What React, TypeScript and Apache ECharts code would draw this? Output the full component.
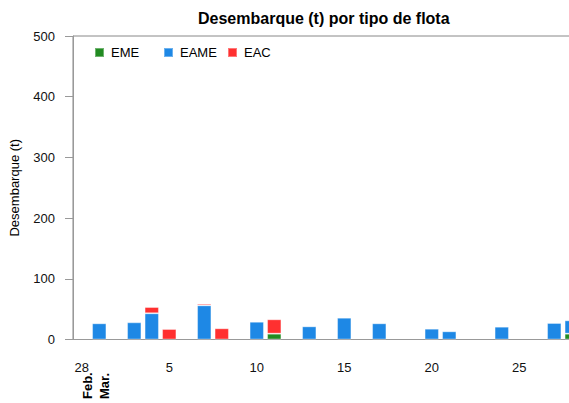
import React, { useEffect, useRef } from "react";
import * as echarts from "echarts";

const days = [
  "28", "1", "2", "3", "4", "5", "6", "7", "8", "9", "10", "11", "12", "13", "14",
  "15", "16", "17", "18", "19", "20", "21", "22", "23", "24", "25", "26", "27", "28",
];
const seriesNames = ["EME", "EAME", "EAC"];
const eme = [0, 0, 0, 0, 0, 0, 0, 0, 0, 0, 0, 9.6, 0, 0, 0, 0, 0, 0, 0, 0, 0, 0, 0, 0, 0, 0, 0, 0, 9.6];
const eame = [0, 26.7, 0, 28.3, 43.2, 0, 0, 56.3, 0, 0, 29.3, 0, 0, 21.7, 0, 35.9, 0, 26.7, 0, 0, 17.8, 13.5, 0, 0, 21.1, 0, 0, 27.2, 22];
const eac = [0, 0, 0, 0, 10.3, 17.3, 0, 2.7, 18.5, 0, 0, 23.7, 0, 0, 0, 0, 0, 0, 0, 0, 1.2, 0, 0, 0, 0, 0, 0, 0, 0];
const colors = ["#228b22", "#1e88e5", "#ff3030"];
const monthLabels = ["Feb.", "Mar."];
const yTicks = { min: 0, max: 500, interval: 100 };

export default function App() {
  const ref = useRef<HTMLDivElement>(null);
  useEffect(() => {
    if (!ref.current) return;
    const chart = echarts.init(ref.current, null, { renderer: "svg" });
    const font = "'Liberation Sans', Arial, sans-serif";
    const values = [eme, eame, eac];
    const legendLefts = [94, 163, 227];
    chart.setOption({
      animation: false,
      textStyle: { fontFamily: font },
      title: {
        text: "Desembarque (t) por tipo de flota",
        left: 198,
        top: 10,
        padding: 0,
        textStyle: { fontSize: 16, fontWeight: "bold", color: "#000", fontFamily: font },
      },
      legend: seriesNames.map((n, i) => ({
        data: [n],
        left: legendLefts[i],
        top: 46,
        padding: 0,
        itemWidth: 9,
        itemHeight: 9,
        icon: "rect",
        textStyle: { fontSize: 13, color: "#000", fontFamily: font, padding: [0, 0, 0, 2] },
      })),
      grid: {
        left: 73,
        right: 0.5,
        top: 36,
        bottom: 63.5,
        show: true,
        borderColor: "#888",
        borderWidth: 1,
      },
      xAxis: [
        {
          type: "category",
          data: days,
          position: "bottom",
          axisLine: { lineStyle: { color: "#999", width: 1 } },
          axisTick: { alignWithLabel: true, interval: 0, length: 4, lineStyle: { color: "#999" } },
          axisLabel: { show: false },
          splitLine: { show: false },
        },
        {
          type: "category",
          data: days,
          position: "bottom",
          axisLine: { show: false },
          axisTick: {
            alignWithLabel: true,
            interval: (i: number) => i % 5 === 0,
            length: 8,
            lineStyle: { color: "#999" },
          },
          axisLabel: {
            interval: (i: number) => i % 5 === 0,
            margin: 21,
            fontSize: 13,
            color: "#111",
            fontFamily: font,
          },
          splitLine: { show: false },
        },
      ],
      yAxis: {
        type: "value",
        min: yTicks.min,
        max: yTicks.max,
        interval: yTicks.interval,
        name: "Desembarque (t)",
        nameLocation: "middle",
        nameGap: 52,
        nameTextStyle: { fontSize: 13, color: "#000", fontFamily: font },
        axisLine: { show: true, lineStyle: { color: "#999" } },
        axisTick: { show: true, length: 8, lineStyle: { color: "#999" } },
        axisLabel: { margin: 18, fontSize: 13, color: "#111", fontFamily: font },
        splitLine: { show: false },
      },
      series: seriesNames.map((n, i) => ({
        name: n,
        type: "bar",
        stack: "total",
        xAxisIndex: 0,
        barWidth: "82%",
        itemStyle: { color: colors[i], borderColor: "rgba(255,255,255,0.35)", borderWidth: 1 },
        data: values[i].map((v) => (v === 0 ? null : v)),
      })),
      graphic: monthLabels.map((t, i) => ({
        type: "text",
        x: 87.5 + i * 17,
        y: 399,
        rotation: Math.PI / 2,
        style: {
          text: t,
          fontSize: 13,
          fontWeight: "bold",
          fontFamily: font,
          fill: "#000",
          align: "left",
          verticalAlign: "middle",
        },
      })),
    });
    return () => chart.dispose();
  }, []);
  return (
    <div style={{ position: "absolute", left: 0, top: 0, width: 569, height: 403, overflow: "hidden" }}>
      <div ref={ref} style={{ width: 581, height: 403 }} />
    </div>
  );
}
